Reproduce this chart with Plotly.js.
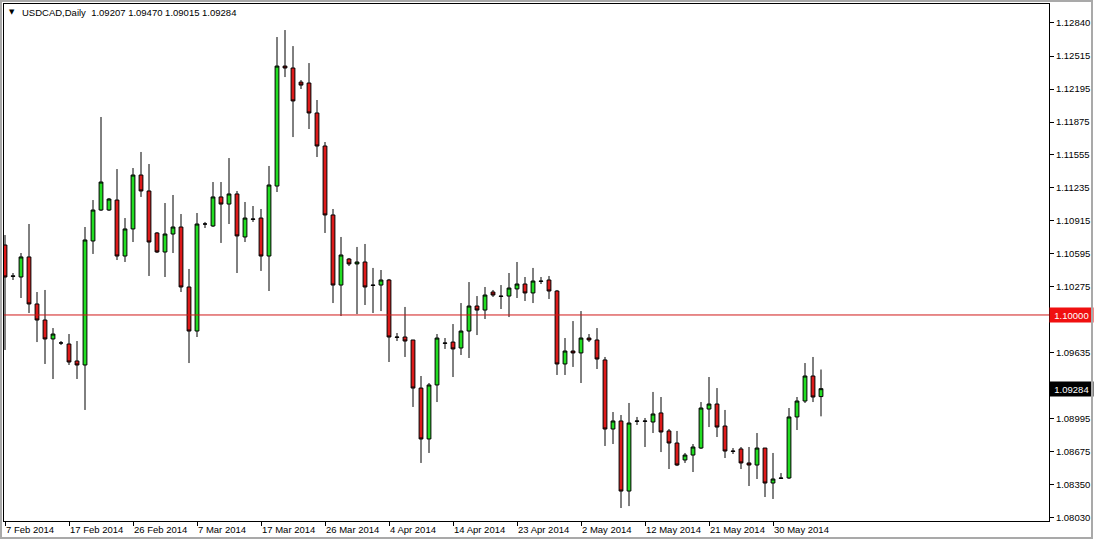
<!DOCTYPE html>
<html><head><meta charset="utf-8">
<script src="https://cdn.plot.ly/plotly-3.0.1.min.js"></script>
<style>
html,body{margin:0;padding:0;background:#fff;overflow:hidden}
#chart{position:absolute;left:0;top:0;width:1094px;height:541px}
#frame{position:absolute;left:0;top:0;width:1089px;height:535px;border:2px solid #a9a9a9;pointer-events:none}
</style></head><body>
<div id="chart"></div><div id="frame"></div>
<script>
const symbol = "USDCAD,Daily";
const dates = [
"2014-02-07","2014-02-09","2014-02-10","2014-02-11","2014-02-12","2014-02-13","2014-02-14",
"2014-02-16","2014-02-17","2014-02-18","2014-02-19","2014-02-20","2014-02-21",
"2014-02-23","2014-02-24","2014-02-25","2014-02-26","2014-02-27","2014-02-28",
"2014-03-02","2014-03-03","2014-03-04","2014-03-05","2014-03-06","2014-03-07",
"2014-03-09","2014-03-10","2014-03-11","2014-03-12","2014-03-13","2014-03-14",
"2014-03-16","2014-03-17","2014-03-18","2014-03-19","2014-03-20","2014-03-21",
"2014-03-23","2014-03-24","2014-03-25","2014-03-26","2014-03-27","2014-03-28",
"2014-03-30","2014-03-31","2014-04-01","2014-04-02","2014-04-03","2014-04-04",
"2014-04-06","2014-04-07","2014-04-08","2014-04-09","2014-04-10","2014-04-11",
"2014-04-13","2014-04-14","2014-04-15","2014-04-16","2014-04-17","2014-04-18",
"2014-04-20","2014-04-21","2014-04-22","2014-04-23","2014-04-24","2014-04-25",
"2014-04-27","2014-04-28","2014-04-29","2014-04-30","2014-05-01","2014-05-02",
"2014-05-04","2014-05-05","2014-05-06","2014-05-07","2014-05-08","2014-05-09",
"2014-05-11","2014-05-12","2014-05-13","2014-05-14","2014-05-15","2014-05-16",
"2014-05-18","2014-05-19","2014-05-20","2014-05-21","2014-05-22","2014-05-23",
"2014-05-25","2014-05-26","2014-05-27","2014-05-28","2014-05-29","2014-05-30",
"2014-06-01","2014-06-02","2014-06-03","2014-06-04","2014-06-05","2014-06-06"];
const open = [
1.10680,1.10380,1.10369,1.10564,1.10107,1.09951,1.09767,1.09728,1.09718,1.09553,
1.09514,1.10719,1.11020,1.11020,1.11117,1.10573,1.10836,1.11360,1.11205,1.10797,
1.10612,1.10787,1.10855,1.10272,1.09844,1.10884,1.10865,1.11147,1.11078,1.11176,
1.10758,1.10933,1.10942,1.10573,1.11253,1.12419,1.12400,1.12263,1.12254,1.11963,
1.11642,1.10972,1.10291,1.10544,1.10496,1.10515,1.10291,1.10291,1.10340,1.09786,
1.09786,1.09757,1.09290,1.08795,1.09320,1.09728,1.09737,1.09679,1.09844,1.10087,
1.10048,1.10223,1.10184,1.10184,1.10253,1.10301,1.10214,1.10330,1.10340,1.10233,
1.09524,1.09650,1.09631,1.09776,1.09757,1.09563,1.08892,1.08970,1.08289,1.08970,
1.08970,1.08960,1.09048,1.08873,1.08756,1.08591,1.08639,1.08707,1.09086,1.09135,
1.08921,1.08678,1.08698,1.08562,1.08542,1.08707,1.08367,1.08416,1.08416,1.09009,
1.09164,1.09407,1.09207];
const high = [
1.10777,1.10408,1.10602,1.10884,1.10223,1.10243,1.09873,1.09747,1.09815,1.09747,
1.10855,1.11117,1.11924,1.11137,1.11418,1.10942,1.11428,1.11584,1.11467,1.10806,
1.11088,1.11166,1.10981,1.10447,1.10991,1.10904,1.11292,1.11292,1.11525,1.11205,
1.11098,1.11059,1.11030,1.11448,1.12701,1.12769,1.12613,1.12283,1.12448,1.12089,
1.11681,1.11030,1.10758,1.10554,1.10661,1.10690,1.10457,1.10437,1.10350,1.09825,
1.10078,1.09757,1.09407,1.09339,1.09815,1.09776,1.09912,1.10116,1.10320,1.10184,
1.10272,1.10243,1.10291,1.10408,1.10515,1.10369,1.10457,1.10369,1.10379,1.10243,
1.09776,1.09941,1.10038,1.09815,1.09873,1.09592,1.09057,1.09028,1.09145,1.09009,
1.08999,1.09252,1.09203,1.08892,1.08873,1.08659,1.08746,1.09154,1.09397,1.09290,
1.09077,1.08707,1.08717,1.08717,1.08853,1.08707,1.08659,1.08464,1.09096,1.09203,
1.09533,1.09592,1.09470];
const low = [
1.09660,1.10340,1.10165,1.10019,1.09737,1.09524,1.09378,1.09708,1.09514,1.09378,
1.09077,1.10593,1.11011,1.11011,1.10534,1.10515,1.10709,1.11147,1.10379,1.10602,
1.10369,1.10602,1.10223,1.09533,1.09786,1.10845,1.10855,1.10700,1.10884,1.10408,
1.10709,1.10904,1.10428,1.10233,1.11195,1.12312,1.11729,1.12196,1.11807,1.11535,
1.10797,1.10116,1.09990,1.10476,1.10009,1.10097,1.10019,1.10038,1.09543,1.09747,
1.09592,1.09106,1.08562,1.08659,1.09154,1.09670,1.09397,1.09611,1.09582,1.09805,
1.09961,1.10175,1.10058,1.09980,1.10165,1.10136,1.10116,1.10301,1.10155,1.09417,
1.09417,1.09495,1.09339,1.09737,1.09475,1.08727,1.08746,1.08124,1.08143,1.08931,
1.08717,1.08853,1.08668,1.08503,1.08532,1.08562,1.08474,1.08698,1.08911,1.08814,
1.08610,1.08649,1.08503,1.08338,1.08406,1.08231,1.08212,1.08406,1.08406,1.08882,
1.09145,1.09154,1.09015];
const close = [
1.10369,1.10376,1.10564,1.10107,1.09951,1.09767,1.09815,1.09728,1.09543,1.09514,
1.10729,1.11020,1.11292,1.11127,1.10573,1.10836,1.11360,1.11205,1.10709,1.10612,
1.10787,1.10855,1.10272,1.09844,1.10884,1.10884,1.11147,1.11078,1.11176,1.10768,
1.10942,1.10930,1.10573,1.11263,1.12419,1.12400,1.12080,1.12234,1.11963,1.11642,
1.10972,1.10291,1.10583,1.10496,1.10515,1.10272,1.10288,1.10340,1.09786,1.09783,
1.09747,1.09290,1.08795,1.09320,1.09776,1.09725,1.09670,1.09844,1.10087,1.10048,
1.10194,1.10194,1.10181,1.10262,1.10301,1.10214,1.10330,1.10327,1.10233,1.09524,
1.09650,1.09631,1.09776,1.09757,1.09572,1.08892,1.08970,1.08289,1.08950,1.08967,
1.08967,1.09038,1.08863,1.08756,1.08542,1.08639,1.08717,1.09096,1.09135,1.08911,
1.08678,1.08675,1.08562,1.08542,1.08707,1.08367,1.08406,1.08413,1.09009,1.09164,
1.09407,1.09203,1.09284];
const tickDates = ["2014-02-07","2014-02-17","2014-02-26","2014-03-07","2014-03-17","2014-03-26",
"2014-04-04","2014-04-14","2014-04-23","2014-05-02","2014-05-12","2014-05-21","2014-05-30"];
const tickLabels = ["7 Feb 2014","17 Feb 2014","26 Feb 2014","7 Mar 2014","17 Mar 2014","26 Mar 2014",
"4 Apr 2014","14 Apr 2014","23 Apr 2014","2 May 2014","12 May 2014","21 May 2014","30 May 2014"];
const priceTicks = [1.12840,1.12515,1.12195,1.11875,1.11555,1.11235,1.10915,1.10595,1.10275,
1.09635,1.08995,1.08675,1.08350,1.08030];
const levelLine = 1.10000;

const FONT = "Liberation Sans, Arial, sans-serif";
const n = close.length;
const last = n - 1;
const f5 = v => v.toFixed(5);

const trace = {
  type: "candlestick",
  x: dates, open: open, high: high, low: low, close: close,
  increasing: {line: {color: "#000000", width: 1}, fillcolor: "#22dd22"},
  decreasing: {line: {color: "#000000", width: 1}, fillcolor: "#dd1a1a"},
  whiskerwidth: 0,
  hoverinfo: "skip",
  showlegend: false
};

const layout = {
  width: 1094, height: 541,
  margin: {l: 4, r: 45, t: 4, b: 20, pad: 0},
  paper_bgcolor: "#ffffff", plot_bgcolor: "#ffffff",
  showlegend: false, hovermode: false, boxgap: 0.32,
  font: {family: FONT, size: 9.5, color: "#000000"},
  xaxis: {
    type: "category", categoryorder: "array", categoryarray: dates,
    range: [-0.125, 130.5], fixedrange: true,
    showline: true, linecolor: "#000000", linewidth: 1, mirror: true,
    showgrid: false, zeroline: false,
    ticks: "outside", ticklen: 4, tickcolor: "#000000", tickwidth: 1,
    tickmode: "array", tickvals: tickDates, ticktext: tickLabels,
    ticklabelposition: "outside right",
    tickfont: {family: FONT, size: 9.5, color: "#000000"},
    rangeslider: {visible: false}
  },
  yaxis: {
    side: "right", range: [1.07998, 1.13022], fixedrange: true,
    showline: true, linecolor: "#000000", linewidth: 1, mirror: true,
    showgrid: false, zeroline: false,
    ticks: "outside", ticklen: 4, tickcolor: "#000000", tickwidth: 1,
    tickmode: "array", tickvals: priceTicks, ticktext: priceTicks.map(f5),
    tickfont: {family: FONT, size: 9.5, color: "#000000"}
  },
  shapes: [{
    type: "line", xref: "paper", x0: 0, x1: 1, yref: "y", y0: levelLine, y1: levelLine,
    line: {color: "#d01818", width: 1}
  }],
  annotations: [
    {xref: "paper", yref: "paper", x: 0.0028, y: 0.9845, xanchor: "left", yanchor: "middle",
     showarrow: false, text: "▼", font: {family: "DejaVu Sans", size: 7, color: "#000000"}},
    {xref: "paper", yref: "paper", x: 0.0153, y: 0.9845, xanchor: "left", yanchor: "middle",
     showarrow: false,
     text: symbol + "\u00a0\u00a0" + [open[last], high[last], low[last], close[last]].map(f5).join(" "),
     font: {family: FONT, size: 9.5, color: "#000000"}},
    {xref: "paper", yref: "y", x: 1, y: levelLine, xanchor: "left", yanchor: "middle",
     showarrow: false, text: f5(levelLine), bgcolor: "#f01010", borderpad: 1,
     width: 41, height: 12, align: "center",
     font: {family: FONT, size: 9.5, color: "#ffffff"}},
    {xref: "paper", yref: "y", x: 1, y: close[last], xanchor: "left", yanchor: "middle",
     showarrow: false, text: f5(close[last]), bgcolor: "#000000", borderpad: 1,
     width: 41, height: 12, align: "center",
     font: {family: FONT, size: 9.5, color: "#ffffff"}}
  ]
};

Plotly.newPlot("chart", [trace], layout, {staticPlot: true, displayModeBar: false});
</script>
</body></html>
